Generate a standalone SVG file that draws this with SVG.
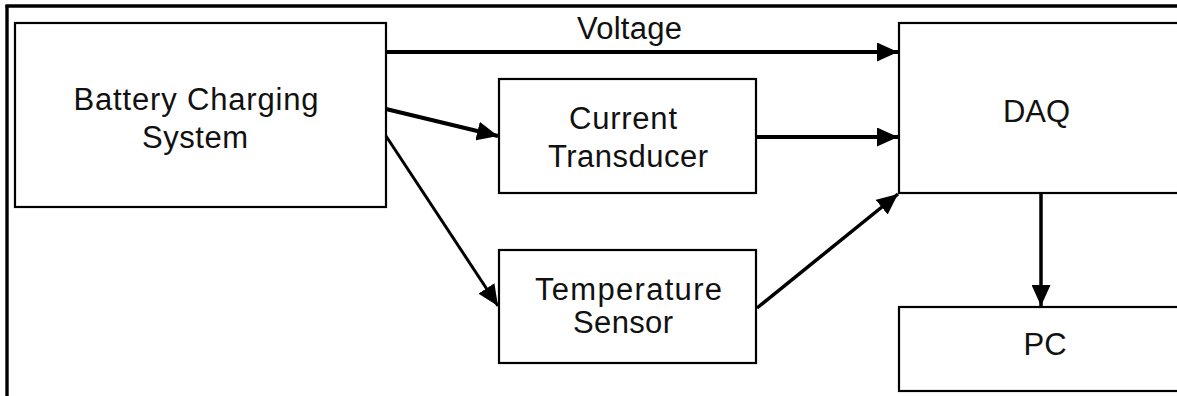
<svg xmlns="http://www.w3.org/2000/svg" width="1177" height="396" viewBox="0 0 1177 396">
<style>
  .box { fill: #fff; stroke: #000; stroke-width: 2.2; }
  .lbl { font-family: "Liberation Sans", Arial, sans-serif; font-size: 31px; fill: #111; text-anchor: middle; }
  .conn { stroke: #000; fill: none; }
</style>
<defs>
  <marker id="ah" markerUnits="userSpaceOnUse" viewBox="0 0 21 19" refX="21" refY="9.5" markerWidth="21" markerHeight="19" orient="auto">
    <path d="M0,0 L21,9.5 L0,19 z" fill="#000"/>
  </marker>
</defs>
<rect width="1177" height="396" fill="#fff"/>
<g id="frame">
  <line x1="5.5" y1="6" x2="1177" y2="6" stroke="#000" stroke-width="3.4"/>
  <line x1="7" y1="5" x2="7" y2="396" stroke="#000" stroke-width="3.4"/>
</g>
<g id="battery">
  <rect class="box" x="15" y="23" width="371" height="184"/>
  <text class="lbl" x="196" y="110" textLength="245" lengthAdjust="spacing">Battery Charging</text>
  <text class="lbl" x="195" y="148" textLength="106" lengthAdjust="spacing">System</text>
</g>
<g id="current">
  <rect class="box" x="499" y="79" width="257" height="114"/>
  <text class="lbl" x="623" y="129" textLength="108" lengthAdjust="spacing">Current</text>
  <text class="lbl" x="628" y="167" textLength="160" lengthAdjust="spacing">Transducer</text>
</g>
<g id="temperature">
  <rect class="box" x="499" y="250" width="257" height="113"/>
  <text class="lbl" x="628.5" y="300" textLength="187" lengthAdjust="spacing">Temperature</text>
  <text class="lbl" x="623" y="333" textLength="100" lengthAdjust="spacing">Sensor</text>
</g>
<g id="daq">
  <rect class="box" x="899" y="23" width="300" height="170"/>
  <text class="lbl" x="1036.5" y="122">DAQ</text>
</g>
<g id="pc">
  <rect class="box" x="899" y="307" width="300" height="84"/>
  <text class="lbl" x="1045" y="355">PC</text>
</g>
<g id="connectors">
  <line class="conn" x1="386" y1="52" x2="898" y2="52" stroke-width="4" marker-end="url(#ah)"/>
  <text class="lbl" x="629.5" y="39" textLength="105" lengthAdjust="spacing">Voltage</text>
  <line class="conn" x1="386" y1="109" x2="498" y2="136" stroke-width="4" marker-end="url(#ah)"/>
  <line class="conn" x1="757" y1="137" x2="898" y2="137" stroke-width="4" marker-end="url(#ah)"/>
  <line class="conn" x1="386" y1="136" x2="498" y2="306" stroke-width="3" marker-end="url(#ah)"/>
  <line class="conn" x1="757" y1="308" x2="898" y2="194" stroke-width="3.5" marker-end="url(#ah)"/>
  <line class="conn" x1="1041" y1="194" x2="1041" y2="306" stroke-width="3.5" marker-end="url(#ah)"/>
</g>
</svg>
